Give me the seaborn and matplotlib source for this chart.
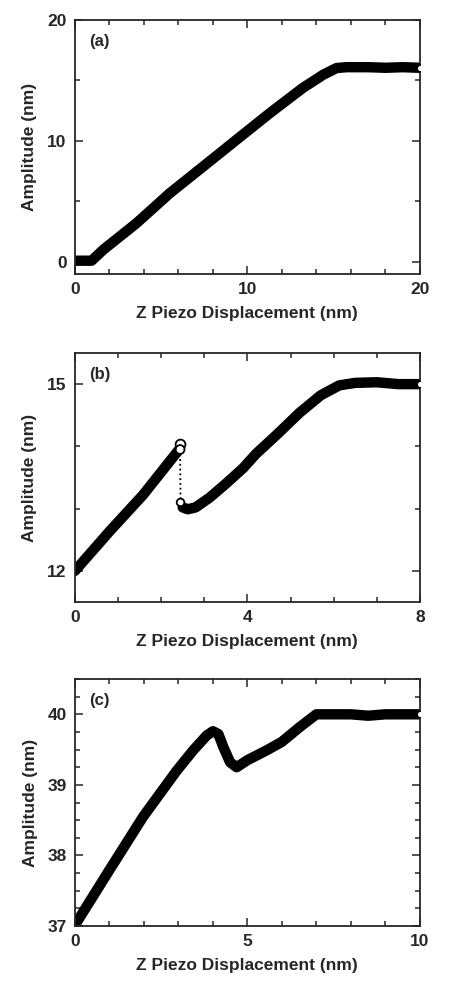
import matplotlib
matplotlib.use('Agg')
import matplotlib.pyplot as plt
import seaborn as sns
from matplotlib.ticker import MultipleLocator, FixedLocator

# panel (a): amplitude vs z piezo displacement
a_x = [0.0, 0.5, 0.97, 1.64, 3.57, 5.51, 7.44, 9.37, 11.3, 13.2, 14.4, 15.17, 15.75, 17.0, 18.0, 19.0, 20.0]
a_y = [0.1, 0.1, 0.1, 1.0, 3.2, 5.69, 7.89, 10.1, 12.3, 14.37, 15.48, 16.03, 16.1, 16.1, 16.05, 16.1, 16.05]

# panel (b): before and after the jump
b1_x = [0.0, 0.81, 1.58, 2.28, 2.43]
b1_y = [12.0, 12.64, 13.22, 13.83, 13.96]
b2_x = [2.5, 2.62, 2.8, 3.13, 3.5, 3.9, 4.2, 4.7, 5.21, 5.7, 6.13, 6.5, 7.0, 7.5, 8.0]
b2_y = [13.02, 12.99, 13.02, 13.18, 13.4, 13.65, 13.88, 14.2, 14.54, 14.82, 14.98, 15.02, 15.03, 15.0, 15.0]
jump_x = [2.45, 2.44, 2.45]
jump_y = [14.03, 13.95, 13.1]

# panel (c)
c_x = [0.0, 0.05, 1.01, 1.98, 2.95, 3.43, 3.82, 4.0, 4.16, 4.3, 4.5, 4.69, 5.0, 5.56, 6.0, 6.52,
       7.0, 7.5, 8.0, 8.5, 9.0, 9.5, 10.0]
c_y = [37.0, 37.05, 37.8, 38.55, 39.2, 39.49, 39.7, 39.76, 39.72, 39.54, 39.32, 39.25, 39.35, 39.49,
       39.61, 39.82, 40.0, 40.0, 40.0, 39.98, 40.0, 40.0, 40.0]

sns.set_style('ticks')
plt.rcParams['font.family'] = ['Liberation Sans', 'DejaVu Sans']
plt.rcParams['font.weight'] = 'bold'

fig = plt.figure(figsize=(4.51, 9.91), dpi=100)
boxes = [[0.166, 0.7235, 0.765, 0.2563],
         [0.166, 0.3925, 0.765, 0.2513],
         [0.166, 0.0656, 0.765, 0.2492]]
axes = [fig.add_axes(b) for b in boxes]


def band(ax, x, y):
    sns.lineplot(x=x, y=y, ax=ax, color='black', lw=7.5, sort=False, estimator=None,
                 solid_capstyle='round', solid_joinstyle='round')
    # open circle at the last recorded point
    ax.scatter(x[-1:], y[-1:], s=22, facecolor='white', edgecolor='black', linewidth=1, zorder=3)


band(axes[0], a_x, a_y)
band(axes[1], b1_x, b1_y)
band(axes[1], b2_x, b2_y)
axes[1].plot(jump_x[1:], jump_y[1:], color='black', lw=1.3, ls=':', zorder=2)
sns.scatterplot(x=jump_x, y=jump_y, ax=axes[1], s=[50, 40, 30], facecolor='white',
                edgecolor='black', linewidth=1.3, zorder=4)
band(axes[2], c_x, c_y)

limits = [((0, 20), (-1, 20)), ((0, 8), (11.5, 15.5)), ((0, 10), (37, 40.5))]
xmajor = [[0, 10, 20], [0, 4, 8], [0, 5, 10]]
ymajor = [[0, 10, 20], [12, 15], [37, 38, 39, 40]]
xminor = [2, 1, 1]
yminor = [FixedLocator([5, 15]), FixedLocator([13, 14]), MultipleLocator(0.25)]
tags = ['(a)', '(b)', '(c)']

for i, ax in enumerate(axes):
    ax.set_xlim(*limits[i][0])
    ax.set_ylim(*limits[i][1])
    ax.set_xticks(xmajor[i])
    ax.set_yticks(ymajor[i])
    ax.xaxis.set_minor_locator(MultipleLocator(xminor[i]))
    ax.yaxis.set_minor_locator(yminor[i])
    ax.tick_params(which='both', direction='in', top=True, right=True, width=1.1, labelsize=12.5)
    ax.tick_params(which='major', length=6, pad=6)
    ax.tick_params(which='minor', length=3.5)
    for sp in ax.spines.values():
        sp.set_linewidth(1.3)
    ax.set_xlabel('Z Piezo Displacement (nm)', fontsize=12.5, fontweight='bold', labelpad=6)
    ax.set_ylabel('Amplitude (nm)', fontsize=12.5, fontweight='bold', labelpad=7)
    ax.text(0.04, 0.915, tags[i], transform=ax.transAxes, fontsize=12, fontweight='bold', va='center')

plt.savefig('out.png', dpi=100)
plt.close()
